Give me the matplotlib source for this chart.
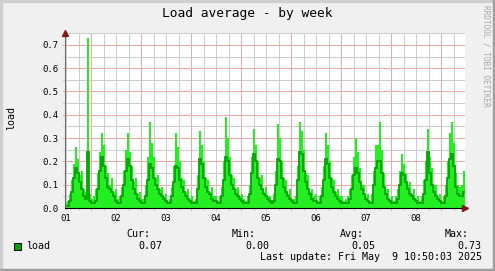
import numpy as np
import matplotlib
matplotlib.use("Agg")
import matplotlib.pyplot as plt
from matplotlib.patches import Rectangle

# load average, one sample per ~58 min (2 px), May 1 10:50 -> May 9 10:50
load_max = [
    0.02, 0.03, 0.06, 0.12, 0.19, 0.26, 0.21, 0.14, 0.16, 0.08, 0.07,
    0.73,
    0.06, 0.04, 0.05,
    0.08, 0.15, 0.24,
    0.32,
    0.27, 0.18, 0.15, 0.10, 0.13, 0.07, 0.08, 0.04, 0.05, 0.09, 0.16,
    0.25, 0.32, 0.24,
    0.18, 0.11, 0.13, 0.06, 0.07, 0.04, 0.04,
    0.10, 0.22, 0.37, 0.28,
    0.22, 0.13, 0.14, 0.08, 0.09, 0.05, 0.06, 0.03, 0.04,
    0.09, 0.18, 0.32, 0.26,
    0.20, 0.13, 0.12, 0.07, 0.08, 0.04, 0.05, 0.03, 0.04,
    0.14, 0.33, 0.27,
    0.20, 0.13, 0.12, 0.07, 0.09, 0.05, 0.05, 0.03, 0.05, 0.09,
    0.20, 0.39, 0.30,
    0.22, 0.14, 0.13, 0.08, 0.09, 0.05, 0.06, 0.04, 0.03, 0.05,
    0.10, 0.22, 0.34, 0.27,
    0.20, 0.13, 0.14, 0.07, 0.09, 0.05, 0.05, 0.03, 0.06,
    0.16, 0.36, 0.30,
    0.20, 0.13, 0.12, 0.06, 0.08, 0.04, 0.04, 0.05,
    0.18, 0.37, 0.33,
    0.25, 0.15, 0.14, 0.07, 0.08, 0.05, 0.06, 0.03, 0.05, 0.09,
    0.18, 0.32, 0.27,
    0.20, 0.13, 0.12, 0.07, 0.08, 0.05, 0.05, 0.03, 0.04, 0.05, 0.08,
    0.14, 0.22, 0.30, 0.24,
    0.17, 0.10, 0.10, 0.05, 0.06, 0.03, 0.06,
    0.16, 0.27, 0.27, 0.37, 0.25,
    0.15, 0.08, 0.08, 0.04, 0.05, 0.03, 0.05,
    0.08, 0.16, 0.23, 0.19,
    0.15, 0.10, 0.11, 0.06, 0.08, 0.04, 0.05, 0.03, 0.05, 0.12,
    0.20, 0.34, 0.22,
    0.17, 0.10, 0.10, 0.05, 0.06, 0.03, 0.05, 0.10,
    0.20, 0.32, 0.37, 0.28,
    0.15, 0.10, 0.09, 0.10, 0.16,
]
load_avg = [
    0.01, 0.01, 0.03, 0.07, 0.13, 0.17, 0.15, 0.11, 0.08, 0.05, 0.04,
    0.24,
    0.03, 0.02, 0.02,
    0.03, 0.08, 0.16,
    0.22,
    0.18, 0.13, 0.09, 0.08, 0.07, 0.05, 0.03, 0.02, 0.02, 0.05, 0.10,
    0.16, 0.21, 0.18,
    0.12, 0.08, 0.06, 0.04, 0.03, 0.02, 0.02,
    0.05, 0.12, 0.19, 0.17,
    0.13, 0.10, 0.08, 0.06, 0.05, 0.04, 0.03, 0.02, 0.02,
    0.05, 0.11, 0.18, 0.17,
    0.12, 0.09, 0.07, 0.05, 0.04, 0.03, 0.02, 0.02, 0.02,
    0.08, 0.21, 0.19,
    0.13, 0.09, 0.07, 0.06, 0.04, 0.03, 0.03, 0.02, 0.02, 0.05,
    0.12, 0.22, 0.20,
    0.14, 0.10, 0.08, 0.06, 0.05, 0.04, 0.03, 0.02, 0.02, 0.02,
    0.06, 0.15, 0.23, 0.20,
    0.13, 0.10, 0.08, 0.06, 0.05, 0.04, 0.03, 0.02, 0.03,
    0.10, 0.21, 0.20,
    0.13, 0.09, 0.07, 0.05, 0.04, 0.03, 0.02, 0.02,
    0.12, 0.24, 0.23,
    0.16, 0.11, 0.08, 0.06, 0.04, 0.03, 0.03, 0.02, 0.02, 0.05,
    0.12, 0.21, 0.19,
    0.13, 0.09, 0.07, 0.05, 0.04, 0.03, 0.02, 0.02, 0.02, 0.02, 0.04,
    0.08, 0.14, 0.17, 0.15,
    0.11, 0.08, 0.06, 0.04, 0.03, 0.02, 0.02,
    0.10, 0.17, 0.20, 0.20, 0.15,
    0.09, 0.06, 0.04, 0.03, 0.02, 0.02, 0.02,
    0.04, 0.10, 0.15, 0.14,
    0.11, 0.08, 0.06, 0.05, 0.04, 0.03, 0.02, 0.02, 0.02, 0.06,
    0.12, 0.24, 0.15,
    0.10, 0.07, 0.05, 0.04, 0.03, 0.02, 0.02, 0.05,
    0.13, 0.21, 0.23, 0.18,
    0.09, 0.06, 0.05, 0.05, 0.07,
]
day_labels = ["01", "02", "03", "04", "05", "06", "07", "08"]
legend_heads = ["Cur:", "Min:", "Avg:", "Max:"]
legend_vals = ["0.07", "0.00", "0.05", "0.73"]
last_update = "Last update: Fri May  9 10:50:03 2025"

step_h = 0.96          # hours per sample
span_h = 192.0         # hours shown
midnight0 = 12.5       # first midnight after the left edge, hours
ytop = 0.751

edges = np.arange(len(load_max) + 1) * step_h

W, H = 495, 271
fig = plt.figure(figsize=(W / 100, H / 100), dpi=100, facecolor="#F0F0F0")
mono = "DejaVu Sans Mono"

# 3d frame like rrdtool
fig.patches.append(Rectangle((0, 0), 2 / W, 1, transform=fig.transFigure, color="#CFCFCF", zorder=0))
fig.patches.append(Rectangle((0, 1 - 2 / H), 1, 2 / H, transform=fig.transFigure, color="#CFCFCF", zorder=0))
fig.patches.append(Rectangle((0, 0), 1, 2 / H, transform=fig.transFigure, color="#9E9E9E", zorder=0))
fig.patches.append(Rectangle((1 - 2 / W, 0), 2 / W, 1, transform=fig.transFigure, color="#9E9E9E", zorder=0))

ax = fig.add_axes([65 / W, (H - 208) / H, 400 / W, 175 / H])
ax.set_facecolor("white")
ax.set_xlim(0, span_h)
ax.set_ylim(0, ytop)

# grid (dotted, light)
grey, red = "#CCCCCC", "#F2A6A6"
minor_x = np.arange(midnight0 - 12, span_h, 6)
major_x = np.arange(midnight0, span_h, 24)
minor_y = np.arange(0.05, 0.76, 0.1)
major_y = np.arange(0.1, 0.71, 0.1)
dot = (0, (1, 1))
kw = dict(linewidth=0.72, linestyles=dot, antialiased=False, zorder=1)
ax.vlines(minor_x, 0, ytop, colors=grey, **kw)
ax.hlines(minor_y, 0, span_h, colors=grey, **kw)
ax.vlines(major_x, 0, ytop, colors=red, **kw)
ax.hlines(major_y, 0, span_h, colors=red, **kw)

# small tick marks outside the axes
tx, ty = 2 * span_h / 400, 2 * ytop / 175
mk = dict(linewidth=0.72, antialiased=False, clip_on=False, zorder=4)
ax.vlines(minor_x, -ty, 0, colors=grey, **mk)
ax.vlines(major_x, -ty, 0, colors=red, **mk)
ax.hlines(minor_y, -tx, 0, colors=grey, **mk)
ax.hlines(major_y, -tx, 0, colors=red, **mk)

# data
ax.stairs(load_max, edges, fill=True, color="#22EE22", zorder=2)
ax.stairs(load_avg, edges, baseline=None, color="#00A400", linewidth=1.3, zorder=3)

# axes
for s in ["top", "right"]:
    ax.spines[s].set_visible(False)
ax.spines["left"].set_color("#707070")
ax.spines["bottom"].set_color("black")
for s in ["left", "bottom"]:
    ax.spines[s].set_linewidth(0.8)
    ax.spines[s].set_zorder(5)

ax.set_xticks(midnight0 - 12 + 24 * np.arange(len(day_labels)))
ax.set_xticklabels(day_labels)
ax.set_yticks(np.arange(0, 0.71, 0.1))
ax.set_yticklabels([f"{v:.1f}" for v in np.arange(0, 0.71, 0.1)])
ax.tick_params(axis="both", length=0)
for lab in ax.get_xticklabels() + ax.get_yticklabels():
    lab.set_fontfamily(mono)
    lab.set_fontsize(6.4)
ax.tick_params(axis="x", pad=4)
ax.tick_params(axis="y", pad=5)

# arrows
ax.plot([0], [ytop], marker="^", markersize=4, color="#7F1A1A", clip_on=False, zorder=6)
ax.plot([span_h], [0], marker=">", markersize=4, color="#7F1A1A", clip_on=False, zorder=6)

def px(x, y):
    return x / W, 1 - y / H

fig.text(*px(247, 14), "Load average - by week", ha="center", va="center",
         fontsize=9.3, family=mono, color="black")
fig.text(*px(11, 118), "load", ha="center", va="center", rotation=90,
         fontsize=7.2, family=mono)
fig.text(*px(486, 56), "RRDTOOL / TOBI OETIKER", ha="center", va="center", rotation=270,
         fontsize=5.6, family=mono, color="#A8A8A8")

# legend
fig.patches.append(Rectangle(px(13.5, 249.5), 7 / W, 7 / H, transform=fig.transFigure,
                             facecolor="#00A400", edgecolor="black", linewidth=0.7))
fig.text(*px(26, 246), "load", ha="left", va="center", fontsize=7.2, family=mono)
head_x = [126, 232, 340, 445]
val_x = [138, 245, 351, 457]
for hx, vx, hd, vl in zip(head_x, val_x, legend_heads, legend_vals):
    fig.text(*px(hx, 234), hd, ha="left", va="center", fontsize=7.2, family=mono)
    fig.text(*px(vx, 246), vl, ha="left", va="center", fontsize=7.2, family=mono)
fig.text(*px(259.5, 257.5), last_update, ha="left", va="center", fontsize=7.2, family=mono)

fig.savefig("out.png", dpi=100, facecolor=fig.get_facecolor())
